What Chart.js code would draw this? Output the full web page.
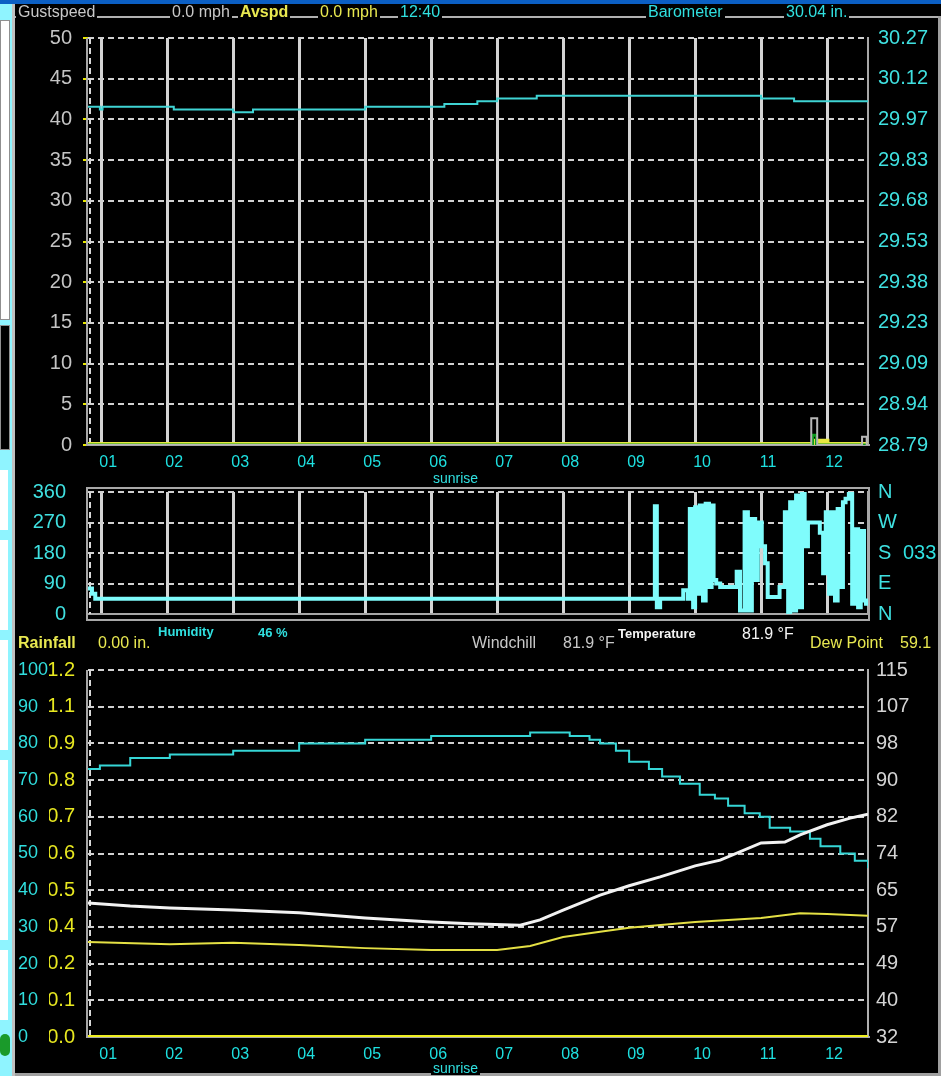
<!DOCTYPE html>
<html>
<head>
<meta charset="utf-8">
<script src="https://cdn.jsdelivr.net/npm/chart.js@4.4.1/dist/chart.umd.min.js"></script>
<style>
  body { margin: 0; background: #000; width: 941px; height: 1076px; overflow: hidden; position: relative; font-family: "Liberation Sans", Arial, sans-serif; }
  canvas { position: absolute; left: 0; }
  .box { position: absolute; }
  .t { position: absolute; white-space: nowrap; font-size: 16px; line-height: 16px; background: #000; padding: 0 2px; }
  .s { font-size: 13px; font-weight: bold; line-height: 13px; }
  .gray { color: #c8c8c8; }
  .yel { color: #e8e850; }
  .cyan { color: #30e0e0; }
  .white { color: #f4f4f4; }
</style>
</head>
<body>
<!-- window chrome -->
<div class="box" style="left:0;top:0;width:941px;height:4px;background:#0b5fc4"></div>
<div class="box" style="left:0;top:4px;width:12px;height:1072px;background:#8ff4ff;border-right:3px solid #c0c0c0"></div>
<div class="box" style="left:0;top:20px;width:8px;height:298px;background:#fff;border:1px solid #909090"></div>
<div class="box" style="left:0;top:325px;width:8px;height:123px;background:#000;border:1px solid #909090"></div>
<div class="box" style="left:0;top:470px;width:8px;height:60px;background:#fff"></div>
<div class="box" style="left:0;top:540px;width:8px;height:90px;background:#fff"></div>
<div class="box" style="left:0;top:640px;width:8px;height:110px;background:#fff"></div>
<div class="box" style="left:0;top:760px;width:8px;height:180px;background:#fff"></div>
<div class="box" style="left:0;top:950px;width:8px;height:70px;background:#fff"></div>
<div class="box" style="left:0;top:1034px;width:10px;height:22px;border-radius:11px;background:#1a9a2a"></div>
<div class="box" style="left:15px;top:16px;width:926px;height:2px;background:#b0b0b0"></div>
<div class="box" style="left:938px;top:16px;width:3px;height:1060px;background:#a0a0a0"></div>
<div class="box" style="left:15px;top:1073px;width:926px;height:3px;background:#a0a0a0"></div>

<canvas id="topChart" width="941" height="468" style="top:14px"></canvas>
<canvas id="dirChart" width="941" height="190" style="top:458px"></canvas>
<canvas id="lowChart" width="941" height="432" style="top:644px"></canvas>

<!-- readouts -->
<span class="t gray" style="left:16px;top:4px">Gustspeed</span>
<span class="t gray" style="left:170px;top:4px">0.0 mph</span>
<span class="t yel" style="left:238px;top:4px;font-weight:bold">Avspd</span>
<span class="t yel" style="left:318px;top:4px">0.0 mph</span>
<span class="t cyan" style="left:398px;top:4px">12:40</span>
<span class="t cyan" style="left:646px;top:4px">Barometer</span>
<span class="t cyan" style="left:784px;top:4px">30.04 in.</span>

<span class="t cyan" style="left:431px;top:471px;font-size:14px;line-height:14px">sunrise</span>
<span class="t cyan" style="left:901px;top:541px;font-size:20px;line-height:22px;background:none">033</span>

<span class="t yel" style="left:16px;top:635px;font-weight:bold">Rainfall</span>
<span class="t yel" style="left:96px;top:635px">0.00 in.</span>
<span class="t cyan s" style="left:156px;top:625px">Humidity</span>
<span class="t cyan s" style="left:256px;top:626px">46 %</span>
<span class="t gray" style="left:470px;top:635px">Windchill</span>
<span class="t gray" style="left:561px;top:635px">81.9 °F</span>
<span class="t white s" style="left:616px;top:627px">Temperature</span>
<span class="t white" style="left:740px;top:626px">81.9 °F</span>
<span class="t yel" style="left:808px;top:635px">Dew Point</span>
<span class="t yel" style="left:898px;top:635px">59.1</span>

<span class="t cyan" style="left:431px;top:1061px;font-size:14px;line-height:14px">sunrise</span>

<script>
// time axis (hours of the day)
const xMin = 0.8;
const xMax = 12.62;
const hourTicks = [1, 2, 3, 4, 5, 6, 7, 8, 9, 10, 11, 12];

// top panel: wind speeds (mph) and barometer (in)
const baroHours = [0.8, 0.98, 1.02, 1.7, 2.1, 2.5, 3.0, 3.3, 4.0, 4.7, 5.0, 5.8, 6.2, 6.7, 7.0, 7.6, 8.0, 9.0, 10.0, 10.6, 11.0, 11.3, 11.5, 12.4, 12.62];
const baroValues = [30.02, 30.01, 30.02, 30.02, 30.01, 30.01, 30.00, 30.01, 30.01, 30.01, 30.02, 30.02, 30.03, 30.04, 30.05, 30.06, 30.06, 30.06, 30.06, 30.06, 30.05, 30.05, 30.04, 30.04, 30.04];
const gustHours = [0.8, 11.76, 11.85, 12.53, 12.6, 12.62];
const gustValues = [0, 3.3, 0, 1.0, 0, 0];
const windHours = [0.8, 11.78, 11.84, 12.62];
const windValues = [0, 1.2, 0, 0];
const avgHours = [0.8, 11.84, 11.99, 12.62];
const avgValues = [0, 0.4, 0, 0];
const baroTickLabels = ['28.79', '28.94', '29.09', '29.23', '29.38', '29.53', '29.68', '29.83', '29.97', '30.12', '30.27'];

// middle panel: wind direction (degrees)
const dirHours = [0.8, 0.86, 0.91, 9.36, 9.39, 9.42, 9.47, 9.82, 9.89, 9.92, 9.97, 10.0, 10.04, 10.07, 10.12, 10.16, 10.21, 10.25, 10.28, 10.32, 10.38, 10.6, 10.63, 10.68, 10.75, 10.8, 10.86, 10.91, 10.95, 11.01, 11.06, 11.1, 11.21, 11.28, 11.36, 11.41, 11.44, 11.48, 11.53, 11.57, 11.62, 11.66, 11.71, 11.82, 11.89, 11.94, 11.98, 12.03, 12.07, 12.12, 12.16, 12.21, 12.24, 12.28, 12.33, 12.38, 12.42, 12.47, 12.51, 12.56, 12.59, 12.62];
const dirValues = [75, 60, 45, 45, 318, 20, 45, 70, 45, 310, 20, 315, 60, 320, 40, 325, 80, 320, 100, 90, 80, 80, 125, 10, 300, 10, 280, 100, 270, 200, 150, 50, 50, 80, 300, 5, 330, 10, 350, 20, 360, 200, 270, 270, 240, 120, 300, 60, 300, 40, 310, 80, 330, 340, 360, 30, 250, 20, 245, 40, 30, 33];
const dirTickLabels = ['N', 'E', 'S', 'W', 'N'];

// bottom panel: humidity (%), rain (in), temperature and dew point (F)
const humHours = [0.8, 0.98, 1.44, 2.04, 3.0, 4.0, 5.0, 6.0, 7.5, 8.1, 8.4, 8.56, 8.8, 9.0, 9.3, 9.5, 9.77, 10.07, 10.3, 10.5, 10.75, 10.98, 11.13, 11.44, 11.74, 11.9, 12.2, 12.42, 12.62];
const humValues = [73, 74, 76, 77, 78, 80, 81, 82, 83, 82, 81, 80, 78, 75, 73, 71, 69, 66, 65, 63, 61, 60, 57, 56, 54, 52, 50, 48, 46];
const tempHours = [0.8, 1.44, 2.04, 3.0, 4.0, 5.0, 6.0, 6.59, 7.35, 7.65, 8.0, 8.56, 9.0, 9.47, 10.0, 10.38, 11.0, 11.36, 11.59, 12.0, 12.35, 12.62];
const tempValues = [62.3, 61.6, 61.2, 60.7, 60.1, 58.9, 58.0, 57.6, 57.3, 58.5, 60.7, 64.1, 66.2, 68.2, 70.7, 72.0, 75.9, 76.1, 77.7, 80.0, 81.5, 82.4];
const dewHours = [0.8, 2.04, 3.0, 4.0, 5.0, 6.0, 7.0, 7.5, 8.0, 8.56, 9.0, 10.0, 11.0, 11.59, 12.0, 12.62];
const dewValues = [53.5, 53.0, 53.3, 52.8, 52.1, 51.7, 51.7, 52.6, 54.6, 55.8, 56.7, 58.0, 58.9, 60.0, 59.8, 59.4];
const rainHours = [0.8, 12.62];
const rainValues = [0, 0];
const rainTickLabels = ['0.0', '0.1', '0.2', '0.4', '0.5', '0.6', '0.7', '0.8', '0.9', '1.1', '1.2'];
const tempTickLabels = ['32', '40', '49', '57', '65', '74', '82', '90', '98', '107', '115'];

const pts = (xs, ys) => xs.map((x, i) => ({ x: x, y: ys[i] }));
const evenTicks = (min, max, n) => Array.from({ length: n + 1 }, (_, i) => ({ value: min + (max - min) * i / n }));

Chart.defaults.animation = false;
Chart.defaults.elements.point.radius = 0;
Chart.defaults.plugins.legend.display = false;
Chart.defaults.plugins.tooltip.enabled = false;
Chart.defaults.font.family = '"Liberation Sans", Arial, sans-serif';

// dashed inner left edge and optional outer box of each plot
const framePlugin = {
  id: 'frame',
  beforeDatasetsDraw(chart, args, opts) {
    const { ctx, chartArea: a } = chart;
    ctx.save();
    ctx.strokeStyle = '#d8d8d8';
    ctx.lineWidth = 2;
    ctx.setLineDash([6, 4]);
    ctx.beginPath();
    ctx.moveTo(a.left + 2, a.top);
    ctx.lineTo(a.left + 2, a.bottom);
    ctx.stroke();
    ctx.setLineDash([]);
    ctx.strokeStyle = '#a8a8a8';
    if (opts.outer) {
      ctx.strokeRect(a.left - 1, a.top - 4, a.width + 2, a.height + 10);
    } else {
      ctx.beginPath();
      ctx.moveTo(a.left - 1, a.top);
      ctx.lineTo(a.left - 1, a.bottom + 1);
      ctx.stroke();
    }
    ctx.restore();
  }
};

function timeAxis(showLabels, height, showGrid) {
  return {
    type: 'linear', min: xMin, max: xMax,
    afterBuildTicks: s => { s.ticks = hourTicks.map(v => ({ value: v })); },
    afterFit: s => { s.height = height; },
    grid: { display: showGrid, color: '#d4d4d4', lineWidth: 3, drawTicks: false },
    border: { color: '#a8a8a8', width: 2 },
    ticks: {
      display: showLabels, color: '#1ee0e0', font: { size: 16 }, padding: 8, labelOffset: 7,
      maxRotation: 0, autoSkip: false, callback: v => String(v).padStart(2, '0')
    }
  };
}

new Chart(document.getElementById('topChart'), {
  type: 'line',
  plugins: [framePlugin],
  data: {
    datasets: [
      { data: pts(baroHours, baroValues), yAxisID: 'y2', borderColor: '#3fd4d4', borderWidth: 2, stepped: 'before' },
      { data: pts(gustHours, gustValues), borderColor: '#b8b8b8', borderWidth: 2, stepped: 'before' },
      { data: pts(windHours, windValues), borderColor: '#0c9a1c', borderWidth: 3, stepped: 'before' },
      { data: pts(avgHours, avgValues), borderColor: '#e8e840', borderWidth: 6, stepped: 'before' }
    ]
  },
  options: {
    responsive: false,
    layout: { padding: { top: 24 } },
    plugins: { frame: { outer: false } },
    scales: {
      x: timeAxis(true, 37, true),
      y: {
        position: 'left', min: 0, max: 50,
        ticks: { stepSize: 5, color: '#c4c4c4', font: { size: 20 }, padding: 11, autoSkip: false },
        grid: { color: '#d0d0d0', lineWidth: 2, tickColor: '#e8e800', tickLength: 5, tickWidth: 2 },
        border: { display: false, dash: [6, 4] },
        afterFit: s => { s.width = 88; }
      },
      y2: {
        position: 'right', min: 28.79, max: 30.27,
        afterBuildTicks: s => { s.ticks = evenTicks(28.79, 30.27, 10); },
        ticks: { color: '#3fe0e0', font: { size: 20 }, padding: 10, autoSkip: false, callback: (v, i) => baroTickLabels[i] },
        grid: { drawOnChartArea: false, drawTicks: false },
        border: { color: '#a8a8a8', width: 2 },
        afterFit: s => { s.width = 73; }
      }
    }
  }
});

new Chart(document.getElementById('dirChart'), {
  type: 'line',
  plugins: [framePlugin],
  data: {
    datasets: [
      { data: pts(dirHours, dirValues), borderColor: '#7ffcfc', borderWidth: 4, stepped: 'before' }
    ]
  },
  options: {
    responsive: false,
    layout: { padding: { top: 34 } },
    plugins: { frame: { outer: true } },
    scales: {
      x: timeAxis(false, 34, true),
      y: {
        position: 'left', min: 0, max: 360,
        ticks: { stepSize: 90, color: '#3fe0e0', font: { size: 20 }, padding: 22, autoSkip: false },
        grid: { color: '#d0d0d0', lineWidth: 2, drawTicks: false },
        border: { display: false, dash: [6, 4] },
        afterFit: s => { s.width = 88; }
      },
      y2: {
        position: 'right', min: 0, max: 360,
        ticks: { stepSize: 90, color: '#3fe0e0', font: { size: 20 }, padding: 10, autoSkip: false, callback: v => dirTickLabels[v / 90] },
        grid: { drawOnChartArea: false, drawTicks: false },
        border: { color: '#a8a8a8', width: 2 },
        afterFit: s => { s.width = 73; }
      }
    }
  }
});

new Chart(document.getElementById('lowChart'), {
  type: 'line',
  plugins: [framePlugin],
  data: {
    datasets: [
      { data: pts(rainHours, rainValues), yAxisID: 'yr', borderColor: '#f0f020', borderWidth: 4 },
      { data: pts(tempHours, tempValues), yAxisID: 'yt', borderColor: '#f2f2f2', borderWidth: 3 },
      { data: pts(humHours, humValues), yAxisID: 'yh', borderColor: '#36d6d6', borderWidth: 2, stepped: 'before' },
      { data: pts(dewHours, dewValues), yAxisID: 'yt', borderColor: '#e4e044', borderWidth: 2 }
    ]
  },
  options: {
    responsive: false,
    layout: { padding: { top: 26, left: 18 } },
    plugins: { frame: { outer: false } },
    scales: {
      x: timeAxis(true, 39, false),
      yh: {
        position: 'left', weight: 2, min: 0, max: 100,
        ticks: { stepSize: 10, color: '#30dede', font: { size: 18 }, crossAlign: 'far', autoSkip: false },
        grid: { color: '#d0d0d0', lineWidth: 2, drawTicks: false },
        border: { display: false, dash: [6, 4] },
        afterFit: s => { s.width = 31; }
      },
      yr: {
        position: 'left', weight: 1, min: 0, max: 1.2,
        afterBuildTicks: s => { s.ticks = evenTicks(0, 1.2, 10); },
        ticks: { color: '#e8e820', font: { size: 20 }, padding: 13, autoSkip: false, callback: (v, i) => rainTickLabels[i] },
        grid: { display: false, drawTicks: false },
        border: { display: false },
        afterFit: s => { s.width = 39; }
      },
      yt: {
        position: 'right', min: 32, max: 115,
        afterBuildTicks: s => { s.ticks = evenTicks(32, 115, 10); },
        ticks: { color: '#d4d4d4', font: { size: 20 }, padding: 8, autoSkip: false, callback: (v, i) => tempTickLabels[i] },
        grid: { drawOnChartArea: false, drawTicks: false },
        border: { color: '#b0b0b0', width: 2 },
        afterFit: s => { s.width = 73; }
      }
    }
  }
});
</script>
</body>
</html>
